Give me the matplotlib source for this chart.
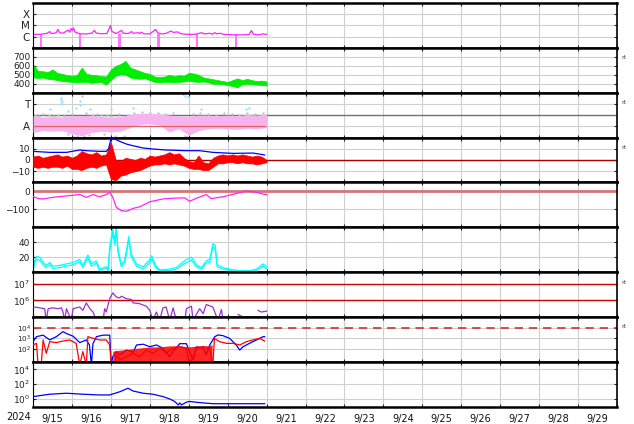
import numpy as np
import matplotlib
matplotlib.use('Agg')
import matplotlib.pyplot as plt
from matplotlib.ticker import FixedLocator, NullLocator

nan = np.nan
# ---------------- data (time in days since 2024-09-15 00:00 UT) ----------------
date_labels = ['9/15', '9/16', '9/17', '9/18', '9/19', '9/20', '9/21', '9/22',
               '9/23', '9/24', '9/25', '9/26', '9/27', '9/28', '9/29']
year_label = '2024'

# X-ray flux (log10 W/m2)
xr_t = [0.00,0.10,0.20,0.30,0.36,0.43,0.47,0.55,0.60,0.64,0.68,0.78,0.86,0.90,0.94,0.98,1.01,1.04,1.08,1.20,
        1.35,1.50,1.58,1.62,1.75,1.90,1.99,2.03,2.10,2.14,2.27,2.32,2.45,2.53,2.58,2.70,2.74,2.78,2.85,3.00,
        3.15,3.20,3.30,3.40,3.55,3.60,3.72,3.78,3.90,4.05,4.20,4.25,4.33,4.40,4.54,4.60,4.67,4.72,4.80,4.90,
        5.05,5.20,5.40,5.55,5.61,5.66,5.80,5.91,5.96,6.00]
xr_log = [-5.78,-5.80,-5.78,-5.74,-5.70,-5.55,-5.72,-5.70,-5.62,-5.35,-5.65,-5.68,-5.50,-5.42,-5.60,-5.28,-5.45,-5.22,-5.60,-5.74,
          -5.76,-5.70,-5.45,-5.68,-5.74,-5.72,-5.00,-5.55,-5.65,-5.72,-5.45,-5.70,-5.72,-5.55,-5.70,-5.65,-5.72,-5.60,-5.74,-5.76,
          -5.35,-5.65,-5.76,-5.72,-5.50,-5.62,-5.58,-5.72,-5.78,-5.80,-5.78,-5.72,-5.65,-5.76,-5.70,-5.78,-5.65,-5.74,-5.70,-5.80,
          -5.82,-5.84,-5.84,-5.82,-5.45,-5.78,-5.84,-5.74,-5.80,-5.78]
ecl_start = [0.18, 1.18, 2.18, 3.19, 4.19, 5.19]
ecl_end = [0.24, 1.24, 2.25, 3.25, 4.25, 5.25]
ecl_level = -5.78

# Solar wind speed: min / max per 3-hour bin (km/s)
sw_t = np.linspace(0, 6, 49)
sw_hi = [615,545,540,530,560,520,510,495,490,495,580,510,500,495,485,480,560,600,620,655,580,560,540,520,510,
         480,475,480,500,485,495,490,520,515,500,470,460,450,440,430,420,440,460,440,455,440,430,435,425]
sw_lo = [470,465,470,455,450,440,430,425,420,415,420,420,410,415,420,390,440,490,505,500,470,460,455,460,440,
         420,415,420,420,415,420,425,430,425,420,425,415,400,400,395,385,375,360,395,400,395,390,385,380]

# IMF phi angle (deg)
phi_t = np.linspace(0, 6, 25)
phi_hi = [175,165,170,165,175,175,180,170,165,170,185,195,195,190,180,175,170,180,180,175,180,175,185,180,190]
phi_lo = [40,55,50,55,30,15,40,50,45,50,80,105,110,100,45,70,20,55,70,75,70,65,75,70,80]
phig_t = [0.05,0.15,0.25,0.4,0.55,0.65,0.8,0.9,1.0,1.05,1.12,1.18,1.25,1.3,1.35,1.45,1.55,1.65,1.75,1.82,1.9,2.0,2.1,
          2.2,2.3,2.35,2.45,2.6,2.8,3.0,3.2,3.4,3.6,3.85,3.9,3.95,4.1,4.3,4.5,4.7,4.9,5.1,5.3,5.5,5.7,5.9]
phig_v = [185,175,190,180,175,185,170,25,190,5,15,355,335,10,195,20,185,190,180,25,185,175,10,
          190,360,15,185,200,205,200,195,190,195,350,10,2,190,195,190,185,195,190,185,195,190,200]
phib_t = [0.43,0.73,0.73,0.74,0.73,1.11,1.22,1.2,1.46,2.01,2.57,3.9,3.98,4.32,5.48,5.56,0.9]
phib_v = [229,317,300,285,270,237,293,260,229,229,237,333,325,229,229,237,215]
phi_ref = 90
phi_ref_t = [0.0, 5.95]

# IMF Bt / Bz (nT); Bz as min / max per 3-hour bin
bt_t = [0.0,0.43,0.86,1.2,1.37,1.71,1.88,1.94,1.97,2.0,2.1,2.23,2.4,2.57,2.83,3.08,3.42,3.94,4.28,4.62,5.14,5.65,5.95]
bt = [7.7,6.8,6.8,8.9,8.3,7.7,7.7,10,14,18.7,18.7,16.6,14.2,12.7,10.7,9.8,8.9,8.3,8.3,6.8,5.9,6.2,4.5]
bz_t = np.linspace(0, 6, 49)
bz_hi = [3,4,2,3,4,5,3,4,2,4,8,6,5,7,4,5,16,0,-1,2,1,0,2,1,4,3,4,5,7,5,6,2,-1,-2,4,-2,-3,2,4,5,4,5,4,5,4,3,4,3,0]
bz_lo = [-6,-7,-6,-7,-6,-6,-7,-5,-8,-8,-9,-7,-6,-7,-5,-4,-17,-18,-14,-13,-11,-10,-9,-7,-5,-4,-4,-3,-4,-3,
         -4,-5,-7,-8,-8,-9,-9,-6,-3,-3,-2,-2,-3,-2,-3,-3,-4,-3,-2]

# Dst (nT)
dst_t = [0.0,0.13,0.26,0.51,0.86,1.2,1.37,1.54,1.71,1.88,1.97,2.05,2.14,2.27,2.4,2.57,2.75,3.0,3.34,3.6,
         3.9,4.02,4.2,4.45,4.58,4.88,5.22,5.48,5.74,5.91,6.0]
dst = [-28,-40,-42,-33,-25,-18,-33,-18,-30,-18,-5,-33,-89,-107,-111,-95,-85,-58,-42,-38,
       -36,-55,-38,-18,-40,-30,-12,3,-5,-15,-18]

# cyan pair
cy_t = [0.0,0.04,0.09,0.17,0.26,0.34,0.43,0.51,0.68,0.86,1.03,1.2,1.28,1.41,1.5,1.63,1.71,1.88,1.93,1.97,
        2.05,2.1,2.14,2.18,2.27,2.35,2.4,2.46,2.52,2.57,2.66,2.83,3.0,3.05,3.14,3.25,3.51,3.68,3.77,3.94,
        4.07,4.2,4.33,4.45,4.54,4.62,4.68,4.73,4.88,5.05,5.3,5.56,5.74,5.91,6.0]
cy_a = [2,15,21,20,13,9,13,8,9,11,13,17,9,23,11,15,4,7,4,33,58,42,58,32,10,15,29,48,25,20,
        11,7,17,22,10,3,4,6,10,17,20,10,6,15,17,38,36,10,6,4,2,2,4,11,7]
cy_b = [1,12,17,16,10,6,10,5,6,8,10,14,6,19,8,12,2,5,2,28,52,36,60,27,7,12,24,44,21,16,
        8,4,13,18,7,2,2,4,7,13,16,7,4,12,13,34,31,7,4,2,1,1,2,8,4]

# purple flux (log10)
pp_t = [0.0,0.04,0.17,0.3,0.34,0.39,0.51,0.64,0.73,0.77,0.81,0.86,0.98,1.03,1.2,1.28,1.37,1.46,1.54,1.63,
        1.8,1.84,1.88,1.97,2.05,2.14,2.23,2.27,2.4,2.53,2.57,2.74,2.91,3.0,3.08,3.17,3.25,3.34,3.42,3.51,
        3.6,3.68,3.9,3.94,4.07,4.11,4.28,4.37,4.45,4.62,4.75,4.84,4.88,5.0,5.27,5.35,5.5,5.78,5.86,6.0]
pp_log = [5.6,5.6,5.55,5.5,4.8,5.5,5.55,5.5,5.55,5.3,4.8,5.5,4.8,5.5,5.6,5.4,5.85,5.5,5.3,4.8,
          4.8,5.5,5.3,6.1,6.45,6.2,6.15,6.25,6.1,6.05,5.85,5.8,5.65,5.4,4.8,5.3,4.8,5.55,5.6,4.8,
          5.55,4.8,4.8,5.5,5.65,4.8,5.5,5.2,5.75,5.6,4.8,5.45,4.8,nan,5.15,5.05,nan,5.4,5.3,5.35]
pp_ref = [1e7, 1e6]

# panel 8 blue / red (log10)
eb_t = [0.0,0.09,0.26,0.43,0.6,0.77,0.86,1.03,1.2,1.37,1.45,1.5,1.54,1.63,1.8,1.97,2.01,2.05,2.14,2.23,
        2.4,2.57,2.66,2.83,3.0,3.17,3.34,3.51,3.6,3.77,3.94,4.02,4.11,4.2,4.37,4.45,4.54,4.67,4.75,4.88,
        5.05,5.22,5.31,5.39,5.56,5.74,5.91,5.95]
eb_log = [2.7,3.16,3.3,2.85,3.16,3.63,3.45,3.2,2.6,2.85,2.38,0.5,2.5,3.16,3.3,3.3,0.5,1.3,1.76,1.45,
          1.9,1.7,2.38,2.45,2.22,2.38,2.07,1.3,1.76,2.5,2.5,1.76,1.0,2.2,2.07,1.45,2.38,3.16,3.32,3.25,
          3.0,2.38,1.9,2.2,2.53,2.85,3.16,3.16]
er_t = [0.0,0.09,0.13,0.21,0.26,0.34,0.43,0.6,0.77,0.94,1.11,1.2,1.28,1.37,1.41,1.54,1.71,1.88,1.97,2.01,
        2.1,2.14,2.23,2.4,2.57,2.74,2.91,3.08,3.25,3.42,3.6,3.77,3.94,4.02,4.2,4.37,4.54,4.62,4.66,4.79,
        4.97,5.14,5.31,5.48,5.65,5.82,5.95]
er_log = [2.38,2.53,0.5,0.5,2.85,1.6,2.69,2.6,2.75,2.85,2.53,0.5,1.76,0.5,3.16,3.0,2.85,2.85,2.38,0.5,
          0.5,1.45,1.0,1.29,1.6,1.29,1.91,1.6,2.07,1.6,2.07,2.22,2.07,0.5,2.07,2.22,2.07,0.5,3.0,2.69,
          2.53,2.53,2.38,2.69,2.85,3.0,2.75]
erb_t = [2.05,2.25,2.5,2.75,3.0,3.25,3.5,3.75,4.0,4.25,4.5,4.6]
erb_hi = [1.8,1.9,2.0,2.1,2.2,2.2,2.3,2.3,2.2,2.3,2.3,2.4]
erb_lo = [0.7,0.7,0.7,0.7,0.7,0.7,0.7,0.7,0.7,0.7,0.7,0.7]
e_ref = 1e4

# panel 9 (log10)
p9_t = [0.0,0.43,0.86,1.28,1.71,1.97,2.23,2.44,2.57,2.83,3.08,3.34,3.51,3.64,3.73,3.77,3.81,3.94,4.02,4.28,
        4.62,5.14,5.65,5.95]
p9_log = [0.35,0.67,0.8,0.67,0.57,0.57,1.0,1.47,1.1,0.8,0.67,0.35,0.04,-0.3,-0.76,-0.5,-0.76,-0.4,-0.3,-0.45,
          -0.6,-0.6,-0.6,-0.6]

# ---------------- figure ----------------
W, H = 634, 424
fig = plt.figure(figsize=(W / 100, H / 100), dpi=100)
L, R = 33 / W, 617 / W
top_px, bot_px = 3.0, 406.7
n = 9
ph = (bot_px - top_px) / n
axes = []
for i in range(n):
    y0 = top_px + i * ph
    ax = fig.add_axes([L, 1 - (y0 + ph) / H, R - L, ph / H])
    axes.append(ax)

GRID = '#cfcfcf'


def style(ax):
    ax.set_xlim(0, 15)
    ax.xaxis.set_major_locator(FixedLocator(list(range(16))))
    ax.grid(True, which='major', color=GRID, lw=0.8)
    ax.set_axisbelow(True)
    ax.tick_params(axis='both', which='major', direction='in', length=2.5, width=0.8,
                   colors='#222222', labelsize=6.5, right=True, top=True, pad=2)
    ax.tick_params(axis='x', labelbottom=False)
    ax.yaxis.set_minor_locator(NullLocator())
    for s in ['top', 'bottom']:
        ax.spines[s].set_linewidth(1.8)
    ax.spines['left'].set_linewidth(0.8)
    ax.spines['right'].set_linewidth(1.2)


# 1: X-ray
ax = axes[0]
style(ax)
ax.set_yscale('log')
ax.set_ylim(1e-7, 1e-3)
ax.yaxis.set_major_locator(FixedLocator([1e-6, 1e-5, 1e-4]))
ax.yaxis.set_minor_locator(NullLocator())
ax.set_yticklabels(['C', 'M', 'X'], fontsize=7.5)
for s, e in zip(ecl_start, ecl_end):
    ax.fill_between([s, e], 1e-8, 10 ** ecl_level, color='#ff77ff', lw=0)
ax.plot(xr_t, 10 ** np.array(xr_log), color='#ff22ff', lw=0.9)

# 2: solar wind speed (min/max band)
ax = axes[1]
style(ax)
ax.set_ylim(300, 800)
ax.set_yticks([400, 500, 600, 700])
ax.fill_between(sw_t, sw_lo, sw_hi, color='#00ee00', lw=0.5, edgecolor='#00ee00')

# 3: phi
ax = axes[2]
style(ax)
ax.set_ylim(0, 360)
ax.set_yticks([90, 270])
ax.set_yticklabels(['A', 'T'], fontsize=7.5)
ax.axhline(180, color='#707070', lw=1.0, zorder=1)
ax.scatter(phig_t, phig_v, s=3, color='#c4c4c4', lw=0, zorder=2)
ax.fill_between(phi_t, phi_lo, phi_hi, color='#f7b3ef', lw=0, zorder=3)
ax.scatter(phib_t, phib_v, s=3, color='#9fe0f7', lw=0, zorder=4)
ax.plot(phi_ref_t, [phi_ref, phi_ref], color='#e06060', lw=0.9, zorder=5)

# 4: Bt / Bz
ax = axes[3]
style(ax)
ax.set_ylim(-20, 20)
ax.set_yticks([-10, 0, 10])
ax.axhline(0, color='#aa0000', lw=1.0, zorder=1)
ax.fill_between(bz_t, bz_lo, bz_hi, color='#ff0000', lw=0.5, edgecolor='#ff0000', zorder=3)
ax.plot(bt_t, bt, color='#0000ff', lw=0.9, zorder=4)

# 5: Dst
ax = axes[4]
style(ax)
ax.set_ylim(-200, 50)
ax.set_yticks([-100, 0])
ax.axhline(0, color='#d77575', lw=2.0, zorder=1)
ax.plot(dst_t, dst, color='#ff22ff', lw=0.9, zorder=3)

# 6: cyan
ax = axes[5]
style(ax)
ax.set_ylim(0, 60)
ax.set_yticks([20, 40])
ax.plot(cy_t, cy_a, color='#00ffff', lw=0.9)
ax.plot(cy_t, cy_b, color='#00ffff', lw=0.9)

# 7: purple
ax = axes[6]
style(ax)
ax.set_yscale('log')
ax.set_ylim(1e5, 10 ** 7.7)
ax.yaxis.set_major_locator(FixedLocator([1e6, 1e7]))
ax.yaxis.set_minor_locator(NullLocator())
ax.grid(False, axis='y')
for v in pp_ref:
    ax.axhline(v, color='#cc0000', lw=1.0, zorder=1)
ax.plot(pp_t, 10 ** np.array(pp_log), color='#9933cc', lw=0.9, zorder=3)

# 8: blue / red
ax = axes[7]
style(ax)
ax.set_yscale('log')
ax.set_ylim(10 ** 0.8, 1e5)
ax.yaxis.set_major_locator(FixedLocator([1e2, 1e3, 1e4]))
ax.yaxis.set_minor_locator(NullLocator())
ax.tick_params(axis='y', labelsize=5.2, pad=1.5)
ax.axhline(e_ref, color='#d03030', lw=1.2, ls=(0, (5, 3.5)), zorder=2)
ax.plot(eb_t, 10 ** np.array(eb_log), color='#0000ff', lw=0.9, zorder=3)
ax.fill_between(erb_t, 10 ** np.array(erb_lo), 10 ** np.array(erb_hi), color='#ff0000', lw=0, alpha=0.85, zorder=4)
ax.plot(er_t, 10 ** np.array(er_log), color='#ff0000', lw=0.9, zorder=5)

# 9: bottom blue
ax = axes[8]
style(ax)
ax.set_yscale('log')
ax.set_ylim(0.1, 1e5)
ax.yaxis.set_major_locator(FixedLocator([1e0, 1e2, 1e4]))
ax.yaxis.set_minor_locator(NullLocator())
ax.plot(p9_t, 10 ** np.array(p9_log), color='#0000ff', lw=0.9)
ax.set_xticks(np.arange(len(date_labels)) + 0.5, minor=True)
ax.set_xticklabels(date_labels, minor=True)
ax.tick_params(axis='x', which='minor', length=0, labelsize=7, pad=5, labelbottom=True, colors='#111111')

fig.text(19 / W, 1 - 416.5 / H, year_label, fontsize=7, ha='center', va='center', color='#111111')

for i in [1, 2, 3, 6, 7]:
    y0 = top_px + i * ph
    fig.text(621 / W, 1 - (y0 + 10) / H, 'rt', fontsize=4.5, ha='left', va='center', color='#444444')

fig.savefig('out.png', dpi=100)
